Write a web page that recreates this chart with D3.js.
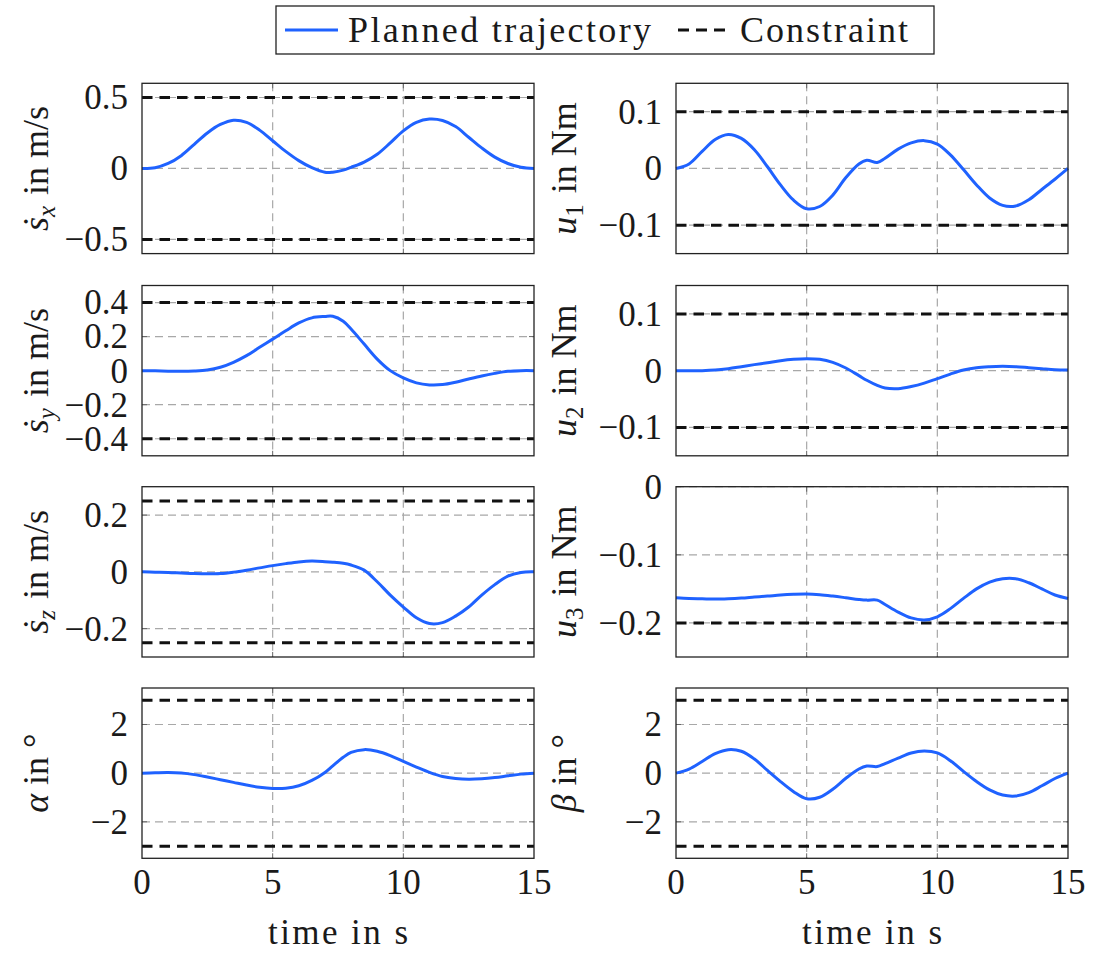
<!DOCTYPE html>
<html>
<head>
<meta charset="utf-8">
<script src="https://cdn.jsdelivr.net/npm/d3@7"></script>
<style>
  body { margin: 0; background: #fff; }
  svg text { font-family: "Liberation Serif", "DejaVu Serif", serif; fill: #1a1a1a; }
</style>
</head>
<body>
<svg id="chart" width="1094" height="953"></svg>
<script>
// time samples (s)
var time = [0,0.5,1,1.5,2,2.5,3,3.5,4,4.5,5,5.5,6,6.5,7,7.3,7.7,8,8.5,9,9.5,10,10.5,11,11.5,12,12.5,13,13.5,14,14.5,15];

// planned trajectory, one array per panel
var sxDot = [0,0.005,0.035,0.09,0.17,0.25,0.31,0.34,0.325,0.27,0.195,0.12,0.055,0.005,-0.027,-0.026,-0.012,0.008,0.045,0.1,0.18,0.265,0.325,0.348,0.338,0.295,0.22,0.145,0.08,0.035,0.008,0];
var syDot = [0,-0.001,-0.003,-0.004,-0.002,0.004,0.02,0.049,0.088,0.137,0.185,0.234,0.28,0.31,0.318,0.319,0.29,0.244,0.156,0.068,0,-0.043,-0.072,-0.084,-0.082,-0.068,-0.049,-0.031,-0.016,-0.004,0,0];
var szDot = [0,-0.001,-0.002,-0.004,-0.006,-0.007,-0.006,-0.001,0.006,0.014,0.022,0.029,0.035,0.038,0.036,0.034,0.03,0.024,0.006,-0.035,-0.082,-0.124,-0.162,-0.182,-0.179,-0.156,-0.124,-0.082,-0.045,-0.015,-0.002,0];
var alpha = [0,0.015,0.025,0.005,-0.06,-0.16,-0.27,-0.38,-0.49,-0.58,-0.63,-0.62,-0.52,-0.3,0.03,0.3,0.65,0.85,0.966,0.9,0.72,0.48,0.25,0.03,-0.14,-0.22,-0.25,-0.23,-0.18,-0.11,-0.04,0];
var u1 = [0,0.008,0.03,0.051,0.06,0.053,0.033,0.003,-0.029,-0.056,-0.071,-0.067,-0.047,-0.016,0.008,0.0145,0.0105,0.018,0.034,0.045,0.049,0.043,0.024,-0.002,-0.029,-0.052,-0.065,-0.066,-0.055,-0.037,-0.019,0];
var u2 = [0,0,0,0.001,0.0035,0.007,0.0106,0.014,0.0176,0.02,0.021,0.02,0.0147,0.0047,-0.0088,-0.017,-0.026,-0.0306,-0.0318,-0.028,-0.022,-0.014,-0.006,0.001,0.0053,0.007,0.0076,0.007,0.0053,0.0035,0.0018,0.001];
var u3 = [-0.163,-0.164,-0.1645,-0.165,-0.1645,-0.1635,-0.162,-0.1606,-0.159,-0.158,-0.1576,-0.1586,-0.1606,-0.163,-0.1655,-0.1665,-0.1665,-0.173,-0.184,-0.1926,-0.1956,-0.191,-0.179,-0.164,-0.15,-0.14,-0.135,-0.135,-0.141,-0.15,-0.159,-0.164];
var beta = [0,0.17,0.48,0.8,0.966,0.9,0.58,0.11,-0.345,-0.76,-1.05,-0.99,-0.66,-0.21,0.17,0.29,0.27,0.39,0.62,0.83,0.91,0.83,0.51,0.07,-0.345,-0.69,-0.9,-0.94,-0.8,-0.52,-0.22,0];

// axis limits, ticks and constraints
var yDomains = [[-0.6,0.6],[-0.15,0.15],[-0.5,0.5],[-0.15,0.15],[-0.3,0.3],[-0.25,0],[-3.5,3.5],[-3.5,3.5]];
var yTicks = [[-0.5,0,0.5],[-0.1,0,0.1],[-0.4,-0.2,0,0.2,0.4],[-0.1,0,0.1],[-0.2,0,0.2],[-0.2,-0.1,0],[-2,0,2],[-2,0,2]];
var constraints = [[-0.5,0.5],[-0.1,0.1],[-0.4,0.4],[-0.1,0.1],[-0.25,0.25],[-0.2],[-3,3],[-3,3]];
var xTicks = [0,5,10,15];
var yLabelSym = ["ṡ","u","ṡ","u","ṡ","u","α","β"];
var yLabelSub = ["x","1","y","2","z","3","",""];
var yLabelUnit = [" in m/s"," in Nm"," in m/s"," in Nm"," in m/s"," in Nm"," in °"," in °"];
var series = [sxDot,u1,syDot,u2,szDot,u3,alpha,beta];

var blue = "#1f62ff";
var colX = [142, 676], boxW = 392;
var rowY = [83.3, 285.5, 486.7, 688], boxH = 170.3;
var labelX = [48, 576];

var svg = d3.select("#chart");

function fmt(v){
  var s = String(Math.abs(v));
  return (v < 0 ? "\u2212" : "") + s;
}

series.forEach(function(vals, i){
  var col = i % 2, row = Math.floor(i / 2);
  var x0 = colX[col], y0 = rowY[row];
  var x = d3.scaleLinear().domain([0,15]).range([x0, x0 + boxW]);
  var y = d3.scaleLinear().domain(yDomains[i]).range([y0 + boxH, y0]);
  var g = svg.append("g");

  // grid
  g.selectAll(".gy").data(yTicks[i]).enter().append("line")
    .attr("x1", x0).attr("x2", x0 + boxW)
    .attr("y1", function(d){ return y(d); }).attr("y2", function(d){ return y(d); })
    .attr("stroke", "#a8a8a8").attr("stroke-width", 1.2).attr("stroke-dasharray", "8,5");
  g.selectAll(".gx").data([5,10]).enter().append("line")
    .attr("y1", y0).attr("y2", y0 + boxH)
    .attr("x1", function(d){ return x(d); }).attr("x2", function(d){ return x(d); })
    .attr("stroke", "#a8a8a8").attr("stroke-width", 1.2).attr("stroke-dasharray", "8,5");

  // small inner ticks
  yTicks[i].forEach(function(v){
    g.append("line").attr("x1", x0).attr("x2", x0 + 5).attr("y1", y(v)).attr("y2", y(v)).attr("stroke", "#666");
    g.append("line").attr("x1", x0 + boxW - 5).attr("x2", x0 + boxW).attr("y1", y(v)).attr("y2", y(v)).attr("stroke", "#666");
  });
  [5,10].forEach(function(v){
    g.append("line").attr("x1", x(v)).attr("x2", x(v)).attr("y1", y0).attr("y2", y0 + 5).attr("stroke", "#666");
    g.append("line").attr("x1", x(v)).attr("x2", x(v)).attr("y1", y0 + boxH - 5).attr("y2", y0 + boxH).attr("stroke", "#666");
  });

  // constraints
  g.selectAll(".con").data(constraints[i]).enter().append("line")
    .attr("x1", x0).attr("x2", x0 + boxW)
    .attr("y1", function(d){ return y(d); }).attr("y2", function(d){ return y(d); })
    .attr("stroke", "#111").attr("stroke-width", 3).attr("stroke-dasharray", "10.5,7");

  // trajectory
  var line = d3.line()
    .x(function(d, k){ return x(time[k]); })
    .y(function(d){ return y(d); })
    .curve(d3.curveCatmullRom.alpha(0.5));
  g.append("path").datum(vals)
    .attr("d", line)
    .attr("fill", "none").attr("stroke", blue).attr("stroke-width", 3);

  // frame
  g.append("rect").attr("x", x0).attr("y", y0).attr("width", boxW).attr("height", boxH)
    .attr("fill", "none").attr("stroke", "#222").attr("stroke-width", 1.3);

  // y tick labels
  g.selectAll(".yt").data(yTicks[i]).enter().append("text")
    .attr("x", x0 - 14).attr("y", function(d){ return y(d); })
    .attr("dy", "0.34em").attr("text-anchor", "end")
    .style("font-size", "35px")
    .text(fmt);

  // y label
  var lab = g.append("text")
    .attr("transform", "translate(" + labelX[col] + "," + (y0 + boxH / 2) + ") rotate(-90)")
    .attr("text-anchor", "middle")
    .style("font-size", "36px");
  lab.append("tspan").style("font-style", "italic").text(yLabelSym[i]);
  if (yLabelSub[i]) {
    lab.append("tspan").attr("dy", 7).style("font-size", "25px")
      .style("font-style", /[0-9]/.test(yLabelSub[i]) ? "normal" : "italic")
      .text(yLabelSub[i]);
    lab.append("tspan").attr("dy", -7).attr("dx", 2).text(yLabelUnit[i]);
  } else {
    lab.append("tspan").text(yLabelUnit[i]);
  }

  // x axis on bottom row
  if (row === 3) {
    g.selectAll(".xt").data(xTicks).enter().append("text")
      .attr("x", function(d){ return x(d); }).attr("y", y0 + boxH + 36)
      .attr("text-anchor", "middle").style("font-size", "35px")
      .text(function(d){ return d; });
    g.append("text").attr("x", x0 + boxW / 2).attr("y", 944)
      .attr("text-anchor", "middle").style("font-size", "35px")
      .attr("textLength", 140).attr("lengthAdjust", "spacing")
      .text("time in s");
  }
});

// legend
var leg = svg.append("g");
leg.append("rect").attr("x", 276).attr("y", 6).attr("width", 658).attr("height", 48)
  .attr("fill", "#fff").attr("stroke", "#222").attr("stroke-width", 1.3);
leg.append("line").attr("x1", 285).attr("x2", 338).attr("y1", 30).attr("y2", 30)
  .attr("stroke", blue).attr("stroke-width", 3);
leg.append("text").attr("x", 348).attr("y", 42).style("font-size", "36px")
  .attr("textLength", 303).attr("lengthAdjust", "spacing")
  .text("Planned trajectory");
leg.append("line").attr("x1", 678).attr("x2", 725).attr("y1", 30).attr("y2", 30)
  .attr("stroke", "#111").attr("stroke-width", 3).attr("stroke-dasharray", "11,7");
leg.append("text").attr("x", 740).attr("y", 42).style("font-size", "36px")
  .attr("textLength", 168).attr("lengthAdjust", "spacing")
  .text("Constraint");
</script>
</body>
</html>
